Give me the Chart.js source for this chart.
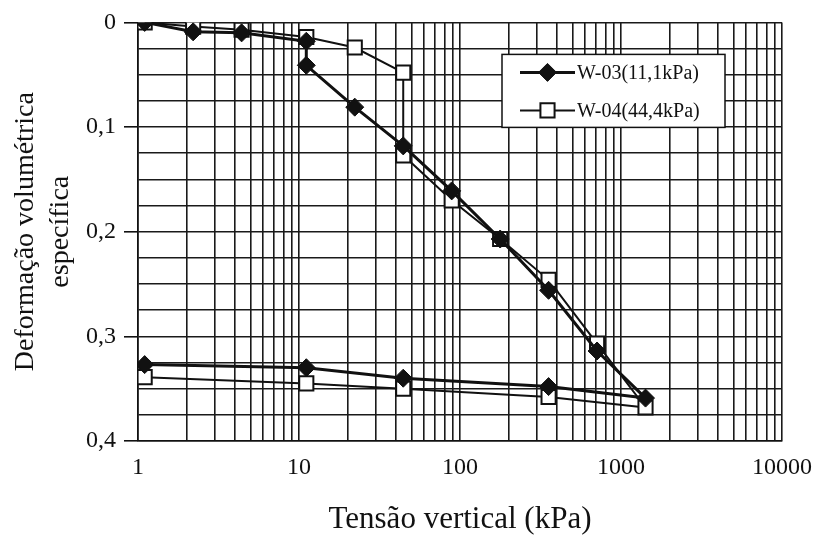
<!DOCTYPE html>
<html>
<head>
<meta charset="utf-8">
<script src="https://cdn.jsdelivr.net/npm/chart.js@4/dist/chart.umd.min.js"></script>
<style>
  html, body { margin: 0; padding: 0; background: #fff; }
  #wrap { width: 816px; height: 538px; }
</style>
</head>
<body>
<div id="wrap"><canvas id="chart"></canvas></div>
<script>
// vertical stress (kPa) and volumetric strain
const w03Stress = [1.1, 2.2, 4.4, 11.1, 11.1, 22.2, 44.4, 88.8, 177.6, 355, 710, 1420, 355, 44.4, 11.1, 1.1];
const w03Strain = [0, 0.009, 0.010, 0.018, 0.041, 0.081, 0.118, 0.161, 0.207, 0.256, 0.314, 0.359, 0.348, 0.340, 0.330, 0.327];

const w04Stress = [1.1, 2.2, 4.4, 11.1, 22.2, 44.4, 44.4, 88.8, 177.6, 355, 710, 1420, 355, 44.4, 11.1, 1.1];
const w04Strain = [0, 0.004, 0.007, 0.014, 0.024, 0.048, 0.127, 0.170, 0.207, 0.246, 0.307, 0.368, 0.358, 0.350, 0.345, 0.339];

const seriesNames = ['W-03(11,1kPa)', 'W-04(44,4kPa)'];

// log grid: 1..9 per decade, labels only on the decades
const decades = [1, 10, 100, 1000, 10000];
const xTickValues = [];
decades.forEach(d => {
    for (let m = 1; m <= 9; m++) {
        if (d * m <= 10000) xTickValues.push(d * m);
    }
});
const yTickValues = [0, 0.025, 0.05, 0.075, 0.1, 0.125, 0.15, 0.175, 0.2, 0.225, 0.25, 0.275, 0.3, 0.325, 0.35, 0.375, 0.4];

const toPoints = (xs, ys) => xs.map((x, i) => ({ x: x, y: ys[i] }));
const serif = 'Liberation Serif, Times New Roman, serif';
const ink = '#111';

// legend box drawn inside the plot: line sample + marker + label
const boxLegend = {
    id: 'boxLegend',
    afterDraw(chart) {
        const ctx = chart.ctx;
        const area = chart.chartArea;
        const w = 223, h = 73;
        const left = area.right - 57 - w;
        const top = area.top + 32;
        ctx.save();
        ctx.fillStyle = '#fff';
        ctx.fillRect(left, top, w, h);
        ctx.lineWidth = 1.5;
        ctx.strokeStyle = ink;
        ctx.strokeRect(left, top, w, h);

        chart.data.datasets.forEach((ds, i) => {
            const cy = top + 18 + i * 38;
            const x0 = left + 18, x1 = left + 73;
            ctx.beginPath();
            ctx.lineWidth = ds.borderWidth;
            ctx.strokeStyle = ink;
            ctx.moveTo(x0, cy);
            ctx.lineTo(x1, cy);
            ctx.stroke();

            ctx.fillStyle = ds.pointBackgroundColor;
            ctx.strokeStyle = ink;
            ctx.lineWidth = ds.pointBorderWidth;
            Chart.helpers.drawPoint(ctx, {
                pointStyle: ds.pointStyle,
                radius: ds.pointRadius,
                borderWidth: ds.pointBorderWidth,
                rotation: 0
            }, (x0 + x1) / 2, cy);

            ctx.fillStyle = ink;
            ctx.font = '20px ' + serif;
            ctx.textBaseline = 'middle';
            ctx.textAlign = 'left';
            ctx.fillText(ds.label, x1 + 2, cy + 1);
        });
        ctx.restore();
    }
};

new Chart(document.getElementById('chart'), {
    type: 'scatter',
    data: {
        datasets: [{
            label: seriesNames[0],
            data: toPoints(w03Stress, w03Strain),
            showLine: true,
            borderColor: ink,
            borderWidth: 3,
            pointStyle: 'rectRot',
            pointRadius: 9,
            pointBackgroundColor: ink,
            pointBorderColor: ink,
            pointBorderWidth: 1
        }, {
            label: seriesNames[1],
            data: toPoints(w04Stress, w04Strain),
            showLine: true,
            borderColor: ink,
            borderWidth: 2,
            pointStyle: 'rect',
            pointRadius: 10,
            pointBackgroundColor: '#fff',
            pointBorderColor: ink,
            pointBorderWidth: 2
        }]
    },
    plugins: [boxLegend],
    options: {
        responsive: true,
        maintainAspectRatio: false,
        animation: false,
        layout: {
            padding: { left: 8, right: 16, top: 22, bottom: 0 }
        },
        plugins: {
            legend: { display: false },
            tooltip: { enabled: false }
        },
        scales: {
            x: {
                type: 'logarithmic',
                min: 1,
                max: 10000,
                afterBuildTicks: scale => {
                    scale.ticks = xTickValues.map(v => ({ value: v }));
                },
                ticks: {
                    autoSkip: false,
                    maxRotation: 0,
                    padding: 4,
                    color: ink,
                    font: { family: serif, size: 24 },
                    callback: v => decades.includes(v) ? String(v) : ''
                },
                grid: {
                    color: '#1a1a1a',
                    lineWidth: 1.6,
                    drawTicks: true,
                    tickLength: 8,
                    tickColor: 'rgba(0,0,0,0)'
                },
                border: { color: ink, width: 1.6 },
                title: {
                    display: true,
                    text: 'Tensão vertical (kPa)',
                    color: ink,
                    font: { family: serif, size: 31 },
                    padding: { top: 15, bottom: 0 }
                }
            },
            y: {
                reverse: true,
                min: 0,
                max: 0.4,
                afterBuildTicks: scale => {
                    scale.ticks = yTickValues.map(v => ({ value: v }));
                },
                ticks: {
                    autoSkip: false,
                    padding: 8,
                    color: ink,
                    font: { family: serif, size: 24 },
                    callback: v => {
                        const r = Math.round(v * 1000);
                        if (r % 100 !== 0) return '';
                        return r === 0 ? '0' : String(r / 1000).replace('.', ',');
                    }
                },
                grid: {
                    color: '#1a1a1a',
                    lineWidth: 1.6,
                    tickLength: 14,
                    tickColor: ctx => (Math.round(ctx.tick.value * 1000) % 100 === 0 ? ink : 'rgba(0,0,0,0)')
                },
                border: { color: ink, width: 1.6 },
                title: {
                    display: true,
                    text: ['Deformação volumétrica', 'específica'],
                    color: ink,
                    font: { family: serif, size: 28, lineHeight: 1.25 },
                    padding: { top: 0, bottom: 0 }
                }
            }
        }
    }
});
</script>
</body>
</html>
